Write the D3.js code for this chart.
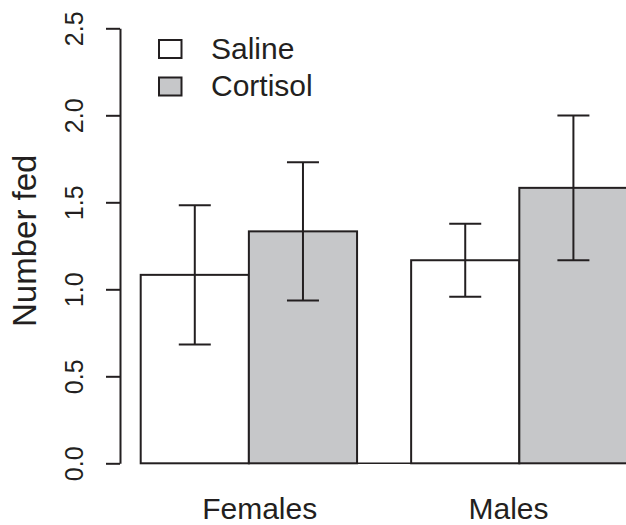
<!DOCTYPE html>
<html lang="en">
<head>
<meta charset="UTF-8">
<title>Number fed</title>
<script src="https://d3js.org/d3.v7.min.js"></script>
<style>
  html, body { margin: 0; padding: 0; background: #fff; }
  svg { display: block; font-family: "Liberation Sans", Arial, Helvetica, sans-serif; }
</style>
</head>
<body>
<div id="chart"></div>
<script>
// data
const groups = ["Females", "Males"];
const treatments = ["Saline", "Cortisol"];
const means = [[1.083, 1.333], [1.167, 1.583]];
const errors = [[0.40, 0.397], [0.21, 0.416]];
const yTicks = [0, 0.5, 1.0, 1.5, 2.0, 2.5];
const groupLabelPos = [1.1, 3.4]; // in bar units, as placed in the original

const fills = ["#ffffff", "#c6c7c9"];
const ink = "#231f20";

const W = 626, H = 525;
const svg = d3.select("#chart").append("svg")
  .attr("width", W).attr("height", H);

// x in "bar units": two bars per group, half a bar between groups
const x = d3.scaleLinear().domain([0, 4.5]).range([140.7, 627.5]);
const y = d3.scaleLinear().domain([0, 2.5]).range([463.3, 28.3]);

const bars = [];
groups.forEach((g, gi) => {
  treatments.forEach((t, ti) => {
    const left = gi * 2.5 + ti;
    bars.push({ g, t, ti, left, mean: means[gi][ti], err: errors[gi][ti] });
  });
});

// baseline
svg.append("line")
  .attr("x1", x(0)).attr("x2", W)
  .attr("y1", y(0)).attr("y2", y(0))
  .attr("stroke", ink).attr("stroke-width", 1.5);

// bars
svg.append("g").selectAll("rect")
  .data(bars).enter().append("rect")
  .attr("x", d => x(d.left))
  .attr("y", d => y(d.mean))
  .attr("width", d => x(d.left + 1) - x(d.left))
  .attr("height", d => y(0) - y(d.mean))
  .attr("fill", d => fills[d.ti])
  .attr("stroke", ink).attr("stroke-width", 2);

// error bars
const eb = svg.append("g").attr("stroke", ink).attr("stroke-width", 2);
bars.forEach(d => {
  const cx = x(d.left + 0.5);
  const lo = y(d.mean - d.err), hi = y(d.mean + d.err);
  eb.append("line").attr("x1", cx).attr("x2", cx).attr("y1", lo).attr("y2", hi);
  eb.append("line").attr("x1", cx - 16).attr("x2", cx + 16).attr("y1", lo).attr("y2", lo);
  eb.append("line").attr("x1", cx - 16).attr("x2", cx + 16).attr("y1", hi).attr("y2", hi);
});

// y axis, R style
const axisX = 120;
const yAxis = svg.append("g").attr("transform", `translate(${axisX},0)`)
  .call(d3.axisLeft(y).tickValues(yTicks).tickSize(14).tickSizeOuter(0).tickPadding(0));
yAxis.select(".domain").attr("stroke", ink).attr("stroke-width", 2);
yAxis.selectAll(".tick line").attr("stroke", ink).attr("stroke-width", 2);
yAxis.selectAll(".tick text").remove();
yAxis.selectAll(".tick").append("text")
  .attr("transform", "translate(-37,0) rotate(-90)")
  .attr("text-anchor", "middle")
  .attr("fill", ink)
  .style("font-size", "25px")
  .text(d => d3.format(".1f")(d));

// y title
svg.append("text")
  .attr("transform", `translate(36,${(y(0) + y(2.5)) / 2 - 5}) rotate(-90)`)
  .attr("text-anchor", "middle")
  .attr("fill", ink)
  .style("font-size", "33px")
  .text("Number fed");

// group labels
svg.append("g").selectAll("text")
  .data(groups).enter().append("text")
  .attr("x", (d, i) => x(groupLabelPos[i]))
  .attr("y", 519)
  .attr("text-anchor", "middle")
  .attr("fill", ink)
  .style("font-size", "30px")
  .text(d => d);

// legend
const legend = svg.append("g").selectAll("g")
  .data(treatments).enter().append("g")
  .attr("transform", (d, i) => `translate(159,${40 + i * 37.5})`);
legend.append("rect")
  .attr("width", 22.5).attr("height", 18)
  .attr("fill", (d, i) => fills[i])
  .attr("stroke", ink).attr("stroke-width", 2);
legend.append("text")
  .attr("x", 52).attr("y", 18.5)
  .attr("fill", ink)
  .style("font-size", "30px")
  .text(d => d);
</script>
</body>
</html>
